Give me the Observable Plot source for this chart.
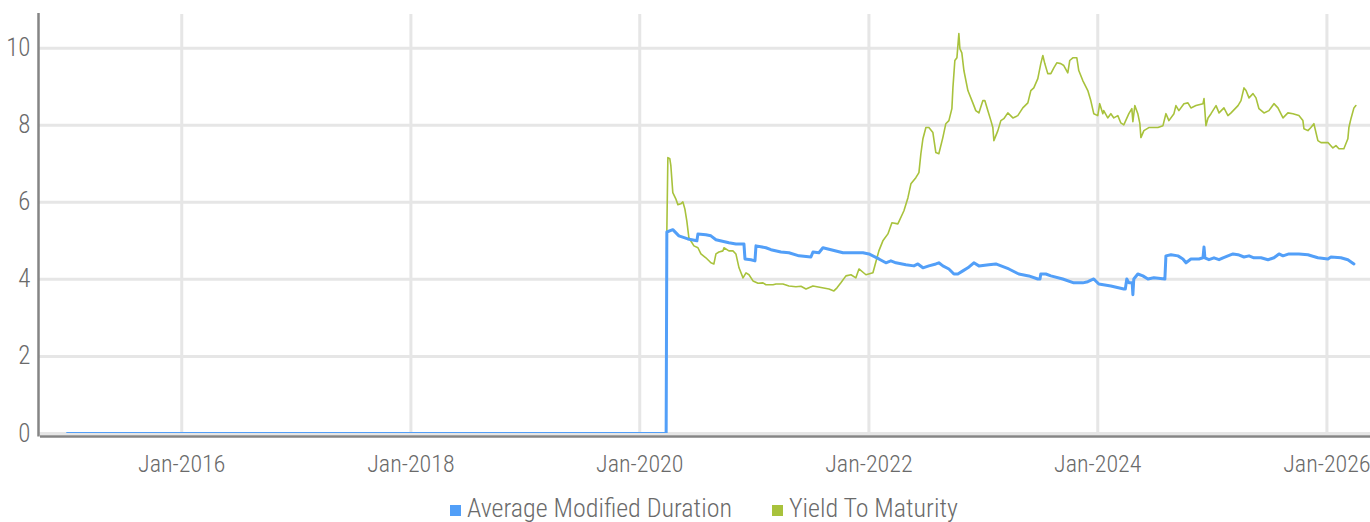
<!DOCTYPE html>
<html>
<head>
<meta charset="utf-8">
<script src="https://cdn.jsdelivr.net/npm/d3@7"></script>
<script src="https://cdn.jsdelivr.net/npm/@observablehq/plot@0.6"></script>
<style>
  html, body { margin: 0; padding: 0; background: #fff; }
  body { width: 1370px; height: 522px; overflow: hidden; font-family: "Liberation Sans Narrow", "Roboto Condensed", "DejaVu Sans Condensed", sans-serif; }
  #legend { margin-left: 38px; width: 1332px; display: flex; justify-content: center; gap: 40px; margin-top: -7px; color: #6a6a6a; font-size: 26px; line-height: 30px; font-weight: 300; }
  .item { display: flex; align-items: center; white-space: nowrap; }
  .sw { width: 11px; height: 11px; margin-right: 6px; margin-top: 4px; }
</style>
</head>
<body>
<div id="chart"></div>
<div id="legend"></div>
<script>
// Average Modified Duration (decimal year, value)
const durYears = [2015.0, 2020.230, 2020.236, 2020.288, 2020.341, 2020.419, 2020.498, 2020.507, 2020.576, 2020.620,
  2020.664, 2020.777, 2020.838, 2020.908, 2020.917, 2020.969, 2021.004, 2021.013, 2021.100, 2021.144,
  2021.231, 2021.301, 2021.389, 2021.493, 2021.511, 2021.563, 2021.598, 2021.668, 2021.773, 2021.860,
  2021.948, 2022.000, 2022.087, 2022.148, 2022.192, 2022.236, 2022.323, 2022.393, 2022.428, 2022.472,
  2022.524, 2022.585, 2022.611, 2022.646, 2022.699, 2022.743, 2022.777, 2022.821, 2022.865, 2022.917,
  2022.961, 2023.048, 2023.109, 2023.223, 2023.310, 2023.397, 2023.476, 2023.495, 2023.502, 2023.546,
  2023.590, 2023.694, 2023.790, 2023.869, 2023.913, 2023.965, 2024.009, 2024.114, 2024.227, 2024.240,
  2024.253, 2024.271, 2024.300, 2024.306, 2024.314, 2024.349, 2024.393, 2024.437, 2024.489, 2024.585,
  2024.594, 2024.638, 2024.699, 2024.742, 2024.769, 2024.812, 2024.882, 2024.917, 2024.926, 2024.934,
  2024.969, 2025.013, 2025.057, 2025.092, 2025.135, 2025.179, 2025.223, 2025.275, 2025.319, 2025.362,
  2025.424, 2025.485, 2025.537, 2025.581, 2025.616, 2025.668, 2025.755, 2025.834, 2025.921, 2026.009,
  2026.035, 2026.122, 2026.183, 2026.236];
const durValues = [0, 0, 5.23, 5.29, 5.13, 5.05, 5.00, 5.18, 5.16, 5.13,
  5.03, 4.95, 4.92, 4.92, 4.53, 4.51, 4.48, 4.87, 4.82, 4.77,
  4.71, 4.69, 4.61, 4.58, 4.71, 4.69, 4.82, 4.77, 4.69, 4.69,
  4.69, 4.66, 4.53, 4.43, 4.48, 4.43, 4.38, 4.35, 4.40, 4.30,
  4.35, 4.40, 4.43, 4.35, 4.27, 4.14, 4.14, 4.22, 4.30, 4.43,
  4.35, 4.38, 4.40, 4.27, 4.14, 4.09, 4.01, 4.01, 4.14, 4.14,
  4.09, 4.01, 3.91, 3.91, 3.94, 4.01, 3.88, 3.83, 3.75, 3.75,
  4.01, 3.91, 3.91, 3.60, 4.01, 4.14, 4.09, 4.01, 4.04, 4.01,
  4.61, 4.64, 4.61, 4.53, 4.43, 4.53, 4.53, 4.56, 4.84, 4.56,
  4.51, 4.56, 4.51, 4.56, 4.61, 4.66, 4.64, 4.58, 4.61, 4.56,
  4.56, 4.51, 4.56, 4.66, 4.61, 4.66, 4.66, 4.64, 4.56, 4.53,
  4.58, 4.56, 4.51, 4.40];

// Yield To Maturity (decimal year, value)
const ytmYears = [2020.236, 2020.245, 2020.262, 2020.271, 2020.288, 2020.314, 2020.332, 2020.358, 2020.376, 2020.393,
  2020.410, 2020.428, 2020.472, 2020.507, 2020.533, 2020.576, 2020.620, 2020.646, 2020.664, 2020.690,
  2020.725, 2020.734, 2020.777, 2020.812, 2020.838, 2020.865, 2020.900, 2020.926, 2020.952, 2020.987,
  2021.031, 2021.074, 2021.100, 2021.162, 2021.188, 2021.249, 2021.301, 2021.362, 2021.406, 2021.450,
  2021.511, 2021.581, 2021.651, 2021.694, 2021.721, 2021.755, 2021.799, 2021.843, 2021.886, 2021.913,
  2021.974, 2022.035, 2022.087, 2022.122, 2022.166, 2022.201, 2022.253, 2022.306, 2022.341, 2022.367,
  2022.410, 2022.437, 2022.454, 2022.472, 2022.498, 2022.524, 2022.559, 2022.585, 2022.611, 2022.646,
  2022.672, 2022.699, 2022.725, 2022.734, 2022.751, 2022.769, 2022.786, 2022.795, 2022.812, 2022.830,
  2022.865, 2022.908, 2022.934, 2022.961, 2022.996, 2023.013, 2023.039, 2023.066, 2023.083, 2023.092,
  2023.127, 2023.153, 2023.179, 2023.214, 2023.258, 2023.301, 2023.345, 2023.389, 2023.415, 2023.441,
  2023.476, 2023.502, 2023.520, 2023.537, 2023.563, 2023.590, 2023.616, 2023.642, 2023.677, 2023.703,
  2023.738, 2023.755, 2023.782, 2023.817, 2023.834, 2023.869, 2023.913, 2023.939, 2023.965, 2024.000,
  2024.017, 2024.044, 2024.052, 2024.087, 2024.114, 2024.140, 2024.175, 2024.201, 2024.227, 2024.271,
  2024.297, 2024.306, 2024.323, 2024.349, 2024.367, 2024.376, 2024.402, 2024.445, 2024.524, 2024.568,
  2024.594, 2024.620, 2024.664, 2024.681, 2024.707, 2024.751, 2024.786, 2024.812, 2024.856, 2024.917,
  2024.926, 2024.943, 2024.961, 2024.987, 2025.031, 2025.057, 2025.100, 2025.135, 2025.162, 2025.223,
  2025.249, 2025.275, 2025.293, 2025.319, 2025.354, 2025.380, 2025.406, 2025.450, 2025.493, 2025.537,
  2025.572, 2025.616, 2025.659, 2025.703, 2025.755, 2025.790, 2025.799, 2025.834, 2025.860, 2025.886,
  2025.921, 2025.948, 2026.009, 2026.052, 2026.079, 2026.105, 2026.148, 2026.183, 2026.192, 2026.210,
  2026.236, 2026.253];
const ytmValues = [5.26, 7.16, 7.13, 6.95, 6.25, 6.09, 5.94, 5.96, 6.01, 5.83,
  5.52, 5.08, 4.87, 4.82, 4.66, 4.56, 4.43, 4.40, 4.66, 4.71,
  4.74, 4.82, 4.74, 4.74, 4.66, 4.30, 4.04, 4.17, 4.12, 3.96,
  3.90, 3.91, 3.86, 3.86, 3.88, 3.88, 3.83, 3.81, 3.82, 3.75,
  3.83, 3.79, 3.75, 3.70, 3.78, 3.91, 4.09, 4.12, 4.04, 4.27,
  4.12, 4.17, 4.74, 5.00, 5.18, 5.47, 5.44, 5.78, 6.12, 6.48,
  6.64, 6.77, 7.26, 7.65, 7.94, 7.94, 7.81, 7.29, 7.26, 7.68,
  8.04, 8.12, 8.43, 8.97, 9.68, 9.75, 10.38, 9.99, 9.88, 9.42,
  8.90, 8.58, 8.38, 8.32, 8.64, 8.64, 8.38, 8.12, 7.94, 7.60,
  7.86, 8.12, 8.17, 8.32, 8.19, 8.25, 8.45, 8.58, 8.90, 8.97,
  9.21, 9.60, 9.81, 9.60, 9.34, 9.34, 9.49, 9.62, 9.60, 9.55,
  9.36, 9.68, 9.75, 9.75, 9.42, 9.16, 8.90, 8.64, 8.30, 8.25,
  8.56, 8.30, 8.38, 8.19, 8.30, 8.19, 8.25, 8.06, 8.01, 8.30,
  8.43, 8.09, 8.51, 8.30, 8.04, 7.68, 7.86, 7.94, 7.94, 7.99,
  8.30, 8.12, 8.30, 8.51, 8.38, 8.56, 8.58, 8.45, 8.51, 8.56,
  8.69, 7.99, 8.19, 8.30, 8.51, 8.32, 8.45, 8.25, 8.32, 8.51,
  8.64, 8.97, 8.90, 8.71, 8.82, 8.71, 8.43, 8.32, 8.38, 8.56,
  8.45, 8.19, 8.32, 8.30, 8.25, 8.12, 7.91, 7.86, 7.94, 8.04,
  7.60, 7.55, 7.55, 7.41, 7.47, 7.39, 7.39, 7.65, 7.94, 8.17,
  8.45, 8.51];

const yTicks = [0, 2, 4, 6, 8, 10];
const xTickYears = [2016, 2018, 2020, 2022, 2024, 2026];
const seriesNames = ["Average Modified Duration", "Yield To Maturity"];
const seriesColors = ["#529ff8", "#a8c23c"];

function toDate(t) {
  const y = Math.floor(t);
  const s = Date.UTC(y, 0, 1), e = Date.UTC(y + 1, 0, 1);
  return new Date(s + (t - y) * (e - s));
}
const dur = durYears.map((t, i) => ({date: toDate(t), value: durValues[i]}));
const ytm = ytmYears.map((t, i) => ({date: toDate(t), value: ytmValues[i]}));
const xTicks = xTickYears.map(y => new Date(Date.UTC(y, 0, 1)));
const xStart = new Date(Date.UTC(2014, 9, 1));
const xEnd = new Date(Date.UTC(2026, 4, 20));
const font = '"Liberation Sans Narrow", "Roboto Condensed", "DejaVu Sans Condensed", sans-serif';

const chart = Plot.plot({
  width: 1370,
  height: 500,
  marginTop: 13,
  marginBottom: 67,
  marginLeft: 38,
  marginRight: 0,
  style: {fontFamily: font, fontSize: "24px", color: "#6a6a6a", background: "#fff", overflow: "visible", fontWeight: 300},
  x: {type: "utc", domain: [xStart, xEnd]},
  y: {domain: [0, 10.9]},
  marks: [
    Plot.gridY(yTicks, {stroke: "#e6e6e6", strokeWidth: 3, strokeOpacity: 1}),
    Plot.gridX(xTicks, {stroke: "#e6e6e6", strokeWidth: 3, strokeOpacity: 1, insetTop: 1}),
    Plot.axisY(yTicks, {tickSize: 0, tickPadding: 8, fontSize: 25, label: null, fill: "#6a6a6a"}),
    Plot.axisX(xTicks, {tickSize: 0, tickPadding: 21, fontSize: 24, label: null, fill: "#6a6a6a",
      tickFormat: d => "Jan-" + d.getUTCFullYear()}),
    Plot.ruleX([xStart], {stroke: "#858585", strokeWidth: 2.5, insetBottom: -3.5}),
    Plot.ruleY([0], {stroke: "#858585", strokeWidth: 2.5, dy: 3, insetLeft: 2}),
    Plot.line(ytm, {x: "date", y: "value", stroke: seriesColors[1], strokeWidth: 1.6}),
    Plot.line(dur, {x: "date", y: "value", stroke: seriesColors[0], strokeWidth: 3, clip: true})
  ]
});
document.getElementById("chart").appendChild(chart);

const legend = document.getElementById("legend");
seriesNames.forEach((n, i) => {
  const it = document.createElement("div");
  it.className = "item";
  const sw = document.createElement("span");
  sw.className = "sw";
  sw.style.background = seriesColors[i];
  const tx = document.createElement("span");
  tx.textContent = n;
  it.appendChild(sw);
  it.appendChild(tx);
  legend.appendChild(it);
});
</script>
</body>
</html>
